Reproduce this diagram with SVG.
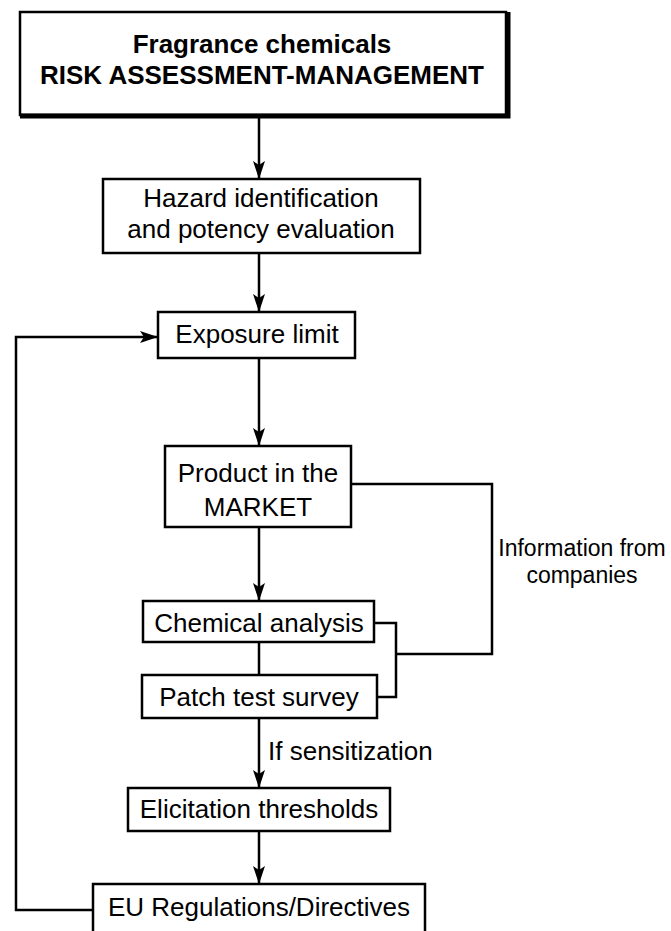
<svg xmlns="http://www.w3.org/2000/svg" width="671" height="931" viewBox="0 0 671 931">
<defs>
<style>
.box{fill:#fff;stroke:#000;stroke-width:2.5}
.ln{fill:none;stroke:#000;stroke-width:2.5}
.t{font-family:"Liberation Sans",Arial,sans-serif;font-size:26px;fill:#000;text-anchor:middle}
.tb{font-family:"Liberation Sans",Arial,sans-serif;font-size:26px;font-weight:bold;fill:#000;text-anchor:middle}
.lab{font-family:"Liberation Sans",Arial,sans-serif;font-size:26px;fill:#000}
.lab2{font-family:"Liberation Sans",Arial,sans-serif;font-size:23px;fill:#000;text-anchor:middle}
</style>
<marker id="ah" viewBox="0 0 18 12" refX="18" refY="6" markerWidth="18" markerHeight="12" markerUnits="userSpaceOnUse" orient="auto">
<path d="M0,0 L18,6 L0,12 L4,6 z" fill="#000"/>
</marker>
</defs>
<rect width="671" height="931" fill="#fff"/>
<g id="connectors">
<path class="ln" d="M259,118 V179" marker-end="url(#ah)"/>
<path class="ln" d="M259,253 V312" marker-end="url(#ah)"/>
<path class="ln" d="M259,358 V446" marker-end="url(#ah)"/>
<path class="ln" d="M259,527 V601" marker-end="url(#ah)"/>
<path class="ln" d="M259,642 V675"/>
<path class="ln" d="M259,718 V788" marker-end="url(#ah)"/>
<path class="ln" d="M259,831 V884" marker-end="url(#ah)"/>
<path class="ln" d="M93,910 H16 V337 H158" marker-end="url(#ah)"/>
<path class="ln" d="M351,484 H492 V654 H396"/>
<path class="ln" d="M374,623 H396 V697 H377"/>
<text class="lab" x="268" y="760">If sensitization</text>
<text class="lab2" x="582" y="556">Information from</text>
<text class="lab2" x="582" y="583">companies</text>
</g>
<g id="title">
<rect class="box" x="20" y="12" width="486" height="103"/>
<path d="M20,116 H508 V12" fill="none" stroke="#000" stroke-width="5"/>
<text class="tb" x="262" y="53">Fragrance chemicals</text>
<text class="tb" x="262" y="84">RISK ASSESSMENT-MANAGEMENT</text>
</g>
<g id="hazard">
<rect class="box" x="103" y="179" width="317" height="74"/>
<text class="t" x="261" y="207">Hazard identification</text>
<text class="t" x="261" y="238">and potency evaluation</text>
</g>
<g id="exposure">
<rect class="box" x="158" y="312" width="197" height="46"/>
<text class="t" x="257" y="343">Exposure limit</text>
</g>
<g id="product">
<rect class="box" x="165" y="446" width="186" height="81"/>
<text class="t" x="258" y="482">Product in the</text>
<text class="t" x="258" y="516">MARKET</text>
</g>
<g id="chemical">
<rect class="box" x="143" y="601" width="231" height="41"/>
<text class="t" x="259" y="632">Chemical analysis</text>
</g>
<g id="patch">
<rect class="box" x="142" y="675" width="235" height="43"/>
<text class="t" x="259" y="706">Patch test survey</text>
</g>
<g id="elicitation">
<rect class="box" x="128" y="788" width="262" height="43"/>
<text class="t" x="259" y="818">Elicitation thresholds</text>
</g>
<g id="eu">
<rect class="box" x="93" y="884" width="332" height="50"/>
<text class="t" x="259" y="916">EU Regulations/Directives</text>
</g>
</svg>
